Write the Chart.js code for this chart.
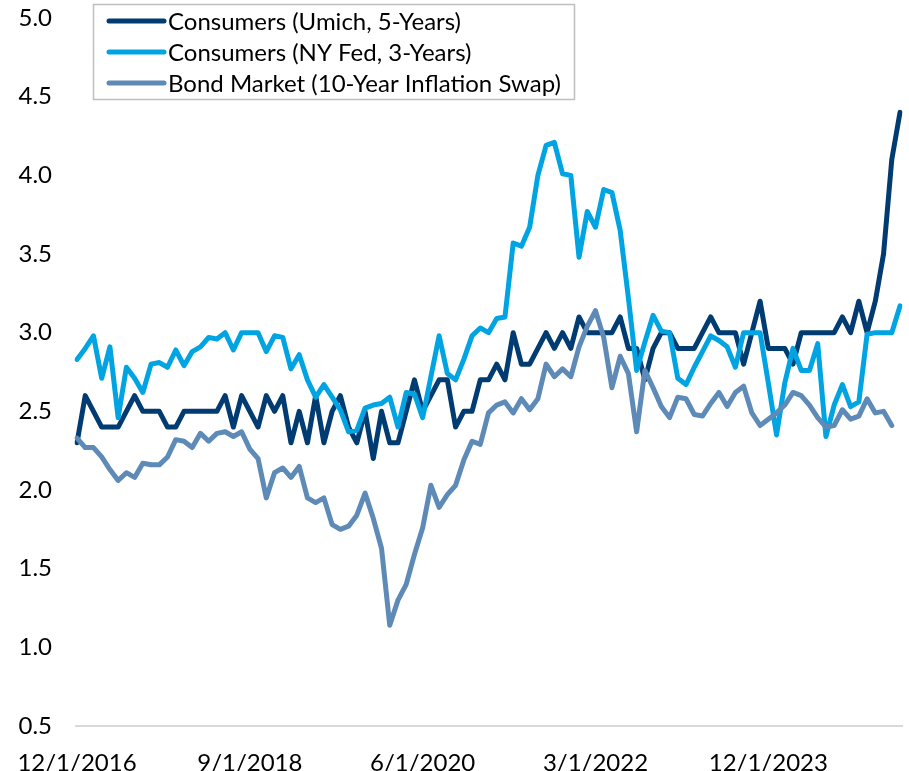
<!DOCTYPE html>
<html>
<head>
<meta charset="utf-8">
<script src="https://cdn.jsdelivr.net/npm/chart.js@4.4.1/dist/chart.umd.min.js"></script>
<style>
  html, body { margin: 0; padding: 0; background: #fff; }
  .chart-container { position: relative; width: 909px; height: 771px; }
</style>
</head>
<body>
<div class="chart-container">
  <canvas id="expChart"></canvas>
</div>
<script>
// monthly observations, Dec 2016 .. Apr 2025
const startYear = 2016;
const startMonth = 12;
const tickEvery = 21; // a label every 21 months

const seriesNames = [
  'Consumers (Umich, 5-Years)',
  'Consumers (NY Fed, 3-Years)',
  'Bond Market (10-Year Inflation Swap)'
];
const seriesColors = ['#003b71', '#00a4e2', '#5e8ab7'];

const umich5y = [
  2.3,
  2.6, 2.5, 2.4, 2.4, 2.4, 2.5, 2.6, 2.5, 2.5, 2.5, 2.4, 2.4,
  2.5, 2.5, 2.5, 2.5, 2.5, 2.6, 2.4, 2.6, 2.5, 2.4, 2.6, 2.5,
  2.6, 2.3, 2.5, 2.3, 2.6, 2.3, 2.5, 2.6, 2.4, 2.3, 2.5, 2.2,
  2.5, 2.3, 2.3, 2.5, 2.7, 2.5, 2.6, 2.7, 2.7, 2.4, 2.5, 2.5,
  2.7, 2.7, 2.8, 2.7, 3.0, 2.8, 2.8, 2.9, 3.0, 2.9, 3.0, 2.9,
  3.1, 3.0, 3.0, 3.0, 3.0, 3.1, 2.9, 2.9, 2.7, 2.9, 3.0, 3.0,
  2.9, 2.9, 2.9, 3.0, 3.1, 3.0, 3.0, 3.0, 2.8, 3.0, 3.2, 2.9,
  2.9, 2.9, 2.8, 3.0, 3.0, 3.0, 3.0, 3.0, 3.1, 3.0, 3.2, 3.0,
  3.2, 3.5, 4.1, 4.4
];

const nyfed3y = [
  2.83, 2.90, 2.98, 2.71, 2.91, 2.46, 2.78, 2.71, 2.62, 2.80,
  2.81, 2.78, 2.89, 2.79, 2.88, 2.91, 2.97, 2.96, 3.00, 2.89,
  3.00, 3.00, 3.00, 2.88, 2.98, 2.97, 2.77, 2.86, 2.70, 2.59,
  2.67, 2.59, 2.51, 2.37, 2.38, 2.52, 2.54, 2.55, 2.59, 2.40,
  2.62, 2.61, 2.46, 2.72, 2.98, 2.74, 2.70, 2.83, 2.98, 3.03,
  3.00, 3.09, 3.10, 3.57, 3.55, 3.67, 4.00, 4.19, 4.21, 4.01,
  4.00, 3.48, 3.77, 3.67, 3.91, 3.89, 3.65, 3.22, 2.76, 2.94,
  3.11, 3.01, 3.00, 2.71, 2.67, 2.78, 2.88, 2.98, 2.95, 2.91,
  2.78, 3.00, 3.00, 3.00, 2.68, 2.35, 2.68, 2.90, 2.76, 2.76,
  2.93, 2.34, 2.54, 2.67, 2.53, 2.56, 2.99, 3.00, 3.00, 3.00,
  3.17
];

const swap10y = [
  2.33, 2.27, 2.27, 2.21, 2.13, 2.06, 2.11, 2.08, 2.17, 2.16,
  2.16, 2.21, 2.32, 2.31, 2.27, 2.36, 2.31, 2.36, 2.37, 2.34,
  2.37, 2.26, 2.20, 1.95, 2.11, 2.14, 2.08, 2.15, 1.95, 1.92,
  1.95, 1.78, 1.75, 1.77, 1.84, 1.98, 1.82, 1.63, 1.14, 1.30,
  1.40, 1.59, 1.76, 2.03, 1.89, 1.97, 2.03, 2.19, 2.31, 2.29,
  2.49, 2.54, 2.56, 2.49, 2.58, 2.51, 2.58, 2.80, 2.72, 2.77,
  2.72, 2.91, 3.04, 3.14, 2.97, 2.65, 2.85, 2.74, 2.37, 2.76,
  2.65, 2.53, 2.46, 2.59, 2.58, 2.48, 2.47, 2.55, 2.62, 2.53,
  2.62, 2.66, 2.49, 2.41, 2.45, 2.49, 2.54, 2.62, 2.60, 2.54,
  2.46, 2.40, 2.41, 2.51, 2.45, 2.47, 2.58, 2.49, 2.50, 2.41,
  null
];

// category labels like 12/1/2016
const months = [];
for (let i = 0; i < umich5y.length; i++) {
  const m = (startMonth - 1 + i) % 12 + 1;
  const y = startYear + Math.floor((startMonth - 1 + i) / 12);
  months.push(m + '/1/' + y);
}

const FONT = 'Lato, "Noto Sans", sans-serif';

// legend box sitting inside the plot, like the original
const boxLegend = {
  id: 'boxLegend',
  afterDraw(chart) {
    const ctx = chart.ctx;
    ctx.save();
    ctx.fillStyle = '#ffffff';
    ctx.fillRect(94, 5, 480, 94);
    ctx.strokeStyle = '#bfbfbf';
    ctx.lineWidth = 1.5;
    ctx.strokeRect(93.5, 4.5, 481, 95);
    ctx.font = '24px ' + FONT;
    ctx.textBaseline = 'middle';
    chart.data.datasets.forEach((ds, i) => {
      const y = 21 + i * 31;
      ctx.strokeStyle = ds.borderColor;
      ctx.lineWidth = 5;
      ctx.lineCap = 'round';
      ctx.beginPath();
      ctx.moveTo(109, y);
      ctx.lineTo(164, y);
      ctx.stroke();
      ctx.fillStyle = '#000';
      ctx.fillText(ds.label, 168, y + 1);
    });
    ctx.restore();
  }
};

// the x axis rule runs a little past the first and last points
const axisRule = {
  id: 'axisRule',
  beforeDatasetsDraw(chart) {
    const a = chart.chartArea;
    const ctx = chart.ctx;
    ctx.save();
    ctx.strokeStyle = '#d9d9d9';
    ctx.lineWidth = 2;
    ctx.beginPath();
    ctx.moveTo(a.left - 2, a.bottom);
    ctx.lineTo(a.right + 3, a.bottom);
    ctx.stroke();
    ctx.restore();
  }
};

const ctx = document.getElementById('expChart').getContext('2d');
const series = [umich5y, nyfed3y, swap10y];

new Chart(ctx, {
  type: 'line',
  data: {
    labels: months,
    datasets: series.map((vals, i) => ({
      label: seriesNames[i],
      data: vals,
      borderColor: seriesColors[i],
      backgroundColor: seriesColors[i],
      borderWidth: 5,
      pointRadius: 0,
      tension: 0,
      borderJoinStyle: 'round',
      borderCapStyle: 'round',
      fill: false,
      order: 2 - i
    }))
  },
  options: {
    responsive: true,
    maintainAspectRatio: false,
    animation: false,
    layout: { padding: { top: 18, right: 9, left: 0, bottom: 0 } },
    plugins: {
      legend: { display: false },
      tooltip: { enabled: false }
    },
    scales: {
      x: {
        grid: { display: false, drawTicks: false },
        border: { display: false },
        ticks: {
          autoSkip: false,
          maxRotation: 0,
          padding: 23,
          color: '#000',
          font: { family: FONT, size: 24 },
          callback: function (value, index) {
            return index % tickEvery === 0 ? months[index] : '';
          }
        },
        afterFit: function (scale) {
          scale.height = 45;
          scale.paddingLeft = 0;
          scale.paddingRight = 0;
        }
      },
      y: {
        min: 0.5,
        max: 5.0,
        grid: { display: false, drawTicks: false },
        border: { display: false },
        ticks: {
          stepSize: 0.5,
          padding: 25,
          color: '#000',
          font: { family: FONT, size: 24 },
          callback: function (v) { return v.toFixed(1); }
        },
        afterFit: function (scale) {
          scale.width = 77;
          scale.paddingTop = 0;
          scale.paddingBottom = 0;
        }
      }
    }
  },
  plugins: [axisRule, boxLegend]
});
</script>
</body>
</html>
